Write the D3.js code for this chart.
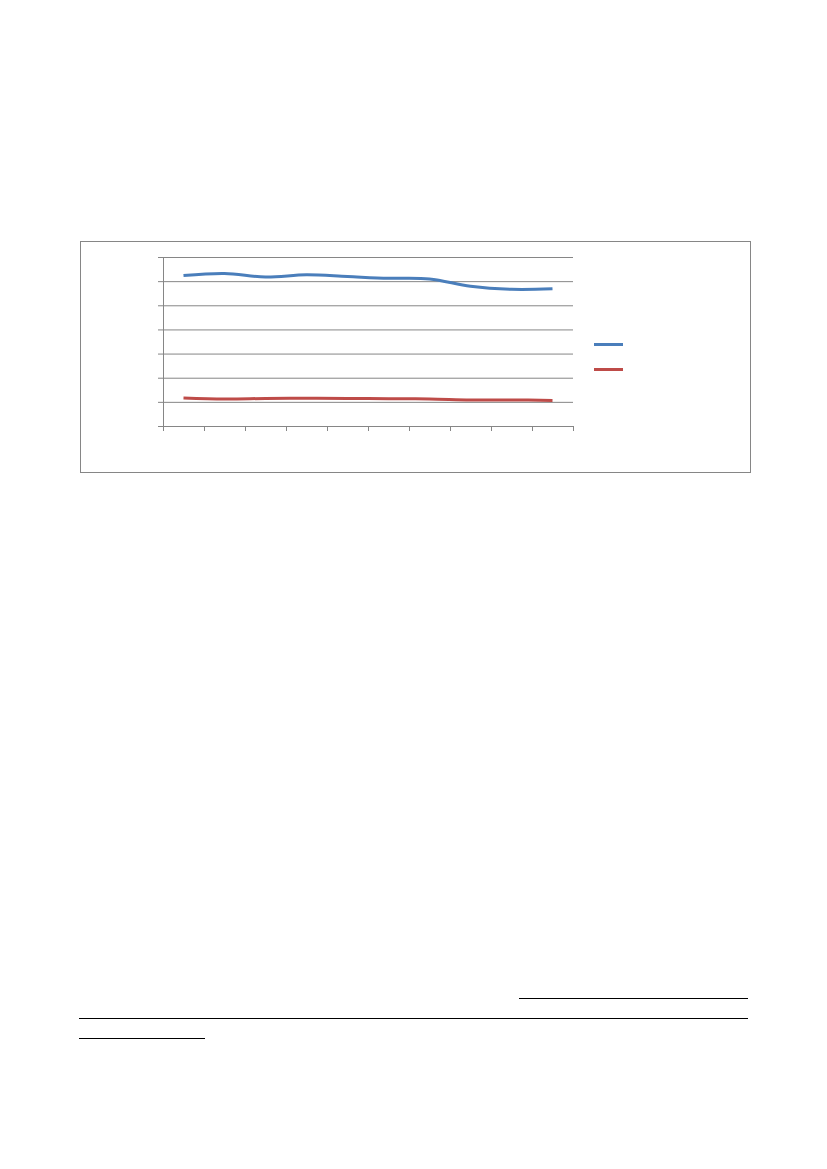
<!DOCTYPE html>
<html>
<head>
<meta charset="utf-8">
<script src="https://cdn.jsdelivr.net/npm/d3@7"></script>
<style>
  html, body { margin: 0; padding: 0; background: #fff; }
  svg { display: block; }
</style>
</head>
<body>
<div id="page"></div>
<script>
// chart values (no labels are visible in the source)
const categories = [1, 2, 3, 4, 5, 6, 7, 8, 9, 10]
const blueValues = [62.3, 63.2, 61.7, 62.6, 61.9, 61.2, 60.9, 57.9, 56.6, 56.8]
const redValues = [11.6, 11.2, 11.4, 11.5, 11.4, 11.3, 11.2, 10.8, 10.8, 10.6]
const yTicks = [0, 10, 20, 30, 40, 50, 60, 70]
const seriesColors = ["#4a7ebb", "#be4b48"]

const pageWidth = 827
const pageHeight = 1169

const svg = d3.select("#page")
  .append("svg")
  .attr("width", pageWidth)
  .attr("height", pageHeight)

// chart frame
svg.append("rect")
  .attr("x", 80.5)
  .attr("y", 241.5)
  .attr("width", 670)
  .attr("height", 231)
  .attr("fill", "#fff")
  .attr("stroke", "#868686")
  .attr("stroke-width", 1)

// whole pixels here, d3's axis adds the half-pixel offset itself
const plot = { left: 163, right: 573, top: 257, bottom: 426 }

const xScale = d3.scaleLinear()
  .domain([0, categories.length])
  .range([plot.left, plot.right])
const yScale = d3.scaleLinear()
  .domain([yTicks[0], yTicks[yTicks.length - 1]])
  .range([plot.bottom, plot.top])

// gridlines + y ticks
const yAxis = d3.axisLeft(yScale)
  .tickValues(yTicks)
  .tickFormat("")
  .tickSizeInner(-(plot.right - plot.left))
  .tickSizeOuter(0)

const yg = svg.append("g")
  .attr("transform", `translate(${plot.left},0)`)
  .call(yAxis)
yg.selectAll("line").attr("stroke", "#868686")
yg.select(".domain").attr("stroke", "#868686")
// short tick marks out to the left
yg.selectAll(".tick")
  .append("line")
  .attr("x1", -5)
  .attr("x2", 0)
  .attr("stroke", "#868686")

const xAxis = d3.axisBottom(xScale)
  .tickValues(d3.range(0, categories.length + 1))
  .tickFormat("")
  .tickSizeInner(5)
  .tickSizeOuter(0)

const xg = svg.append("g")
  .attr("transform", `translate(0,${plot.bottom})`)
  .call(xAxis)
xg.selectAll("line").attr("stroke", "#868686")
xg.select(".domain").attr("stroke", "#868686")

// series lines (smoothed like the source)
const line = d3.line()
  .x((d, i) => xScale(i + 0.5))
  .y(d => yScale(d))
  .curve(d3.curveCatmullRom.alpha(0.5))

;[blueValues, redValues].forEach((vals, k) => {
  svg.append("path")
    .datum(vals)
    .attr("d", line)
    .attr("fill", "none")
    .attr("stroke", seriesColors[k])
    .attr("stroke-width", 3)
    .attr("stroke-linejoin", "round")
})

// legend keys (no text in the source)
seriesColors.forEach((c, k) => {
  svg.append("line")
    .attr("x1", 594)
    .attr("x2", 623)
    .attr("y1", 344.5 + k * 25)
    .attr("y2", 344.5 + k * 25)
    .attr("stroke", c)
    .attr("stroke-width", 3)
})

// rules further down the page
const rules = [
  { x1: 519, x2: 748, y: 998.5 },
  { x1: 79, x2: 748, y: 1018.5 },
  { x1: 79, x2: 205, y: 1038.5 }
]
svg.selectAll(".rule")
  .data(rules)
  .enter()
  .append("line")
  .attr("class", "rule")
  .attr("x1", d => d.x1)
  .attr("x2", d => d.x2)
  .attr("y1", d => d.y)
  .attr("y2", d => d.y)
  .attr("stroke", "#000")
  .attr("stroke-width", 1)
</script>
</body>
</html>
